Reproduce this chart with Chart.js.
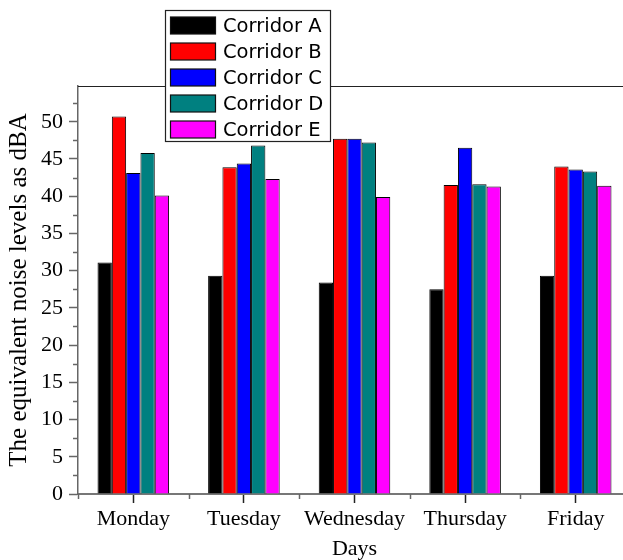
<!DOCTYPE html>
<html>
<head>
<meta charset="utf-8">
<script src="https://cdn.jsdelivr.net/npm/chart.js@4/dist/chart.umd.min.js"></script>
<style>
  html, body { margin: 0; padding: 0; background: #fff; overflow: hidden; }
  #wrap { position: relative; width: 631px; height: 560px; }
</style>
</head>
<body>
<div id="wrap"><canvas id="c"></canvas></div>
<script>
// Weekdays on the x axis
const days = ['Monday', 'Tuesday', 'Wednesday', 'Thursday', 'Friday'];

// Equivalent noise level (dBA) per corridor, Monday to Friday
const corridorA = [31.1, 29.3, 28.4, 27.5, 29.3];
const corridorB = [50.7, 43.9, 47.7, 41.5, 44.0];
const corridorC = [43.1, 44.4, 47.7, 46.5, 43.6];
const corridorD = [45.8, 46.8, 47.2, 41.6, 43.3];
const corridorE = [40.1, 42.3, 39.9, 41.3, 41.4];

const seriesNames = ['Corridor A', 'Corridor B', 'Corridor C', 'Corridor D', 'Corridor E'];
const seriesColors = ['#000000', '#ff0000', '#0000ff', '#008080', '#ff00ff'];

// Labelled y ticks and the minor ticks between them
const yTicks = [0, 5, 10, 15, 20, 25, 30, 35, 40, 45, 50];
const yMinorTicks = [2.5, 7.5, 12.5, 17.5, 22.5, 27.5, 32.5, 37.5, 42.5, 47.5, 52.5];
const yMax = 54.8;

const serif = '"Liberation Serif", "Times New Roman", serif';
const sans = '"DejaVu Sans", sans-serif';
const axisGray = '#666666';

// Minor ticks, the top frame line and the boxed legend inside the plot
const decorations = {
  id: 'decorations',
  afterDraw(chart) {
    const ctx = chart.ctx;
    const area = chart.chartArea;
    const x = chart.scales.x;
    const y = chart.scales.y;
    ctx.save();

    // top frame
    ctx.strokeStyle = '#222222';
    ctx.lineWidth = 1.2;
    ctx.beginPath();
    ctx.moveTo(area.left, area.top + 0.5);
    ctx.lineTo(area.right + 5, area.top + 0.5);
    ctx.stroke();

    // y minor ticks
    ctx.strokeStyle = axisGray;
    ctx.lineWidth = 1.5;
    yMinorTicks.forEach(v => {
      const py = Math.round(y.getPixelForValue(v)) + 0.5;
      ctx.beginPath();
      ctx.moveTo(area.left - 5, py);
      ctx.lineTo(area.left, py);
      ctx.stroke();
    });

    // x ticks on category boundaries
    for (let i = 0; i <= days.length; i++) {
      const px = Math.round(x.getPixelForValue(i - 0.5)) + 0.5;
      ctx.beginPath();
      ctx.moveTo(px, area.bottom);
      ctx.lineTo(px, area.bottom + 5);
      ctx.stroke();
    }

    // legend box
    const box = { x: 165.5, y: 10.5, w: 165, h: 131 };
    ctx.fillStyle = '#ffffff';
    ctx.fillRect(box.x, box.y, box.w, box.h);
    ctx.strokeStyle = '#222222';
    ctx.lineWidth = 1.2;
    ctx.strokeRect(box.x, box.y, box.w, box.h);

    ctx.font = '19.5px ' + sans;
    ctx.textBaseline = 'middle';
    ctx.textAlign = 'left';
    chart.data.datasets.forEach((ds, i) => {
      const cy = 25.5 + i * 26;
      ctx.fillStyle = ds.backgroundColor;
      ctx.fillRect(170.5, cy - 8.5, 45, 17);
      ctx.strokeStyle = '#111111';
      ctx.lineWidth = 1.2;
      ctx.strokeRect(170.5, cy - 8.5, 45, 17);
      ctx.fillStyle = '#000000';
      ctx.fillText(ds.label, 223, cy + 1);
    });

    ctx.restore();
  }
};

const values = [corridorA, corridorB, corridorC, corridorD, corridorE];

new Chart(document.getElementById('c'), {
  type: 'bar',
  data: {
    labels: days,
    datasets: values.map((vals, i) => ({
      label: seriesNames[i],
      data: vals,
      backgroundColor: seriesColors[i],
      borderColor: '#000000',
      borderWidth: 1,
      categoryPercentage: 0.647,
      barPercentage: 1.0
    }))
  },
  options: {
    responsive: true,
    maintainAspectRatio: false,
    animation: false,
    devicePixelRatio: 1,
    layout: { padding: { top: 86, left: 0, right: 0, bottom: 0 } },
    plugins: {
      legend: { display: false },
      tooltip: { enabled: false }
    },
    scales: {
      x: {
        type: 'category',
        offset: true,
        afterFit(scale) { scale.height = 66; },
        grid: {
          offset: false,
          drawOnChartArea: false,
          drawTicks: true,
          tickLength: 9,
          tickColor: '#222222',
          tickWidth: 1.5
        },
        border: { display: true, color: '#777777', width: 2 },
        ticks: {
          padding: 3,
          color: '#000000',
          maxRotation: 0,
          font: { family: serif, size: 22 }
        },
        title: {
          display: true,
          text: 'Days',
          color: '#000000',
          padding: 0,
          font: { family: serif, size: 22, lineHeight: 1 }
        }
      },
      y: {
        min: 0,
        max: yMax,
        afterFit(scale) { scale.width = 78; },
        afterBuildTicks(scale) { scale.ticks = yTicks.map(v => ({ value: v })); },
        grid: {
          drawOnChartArea: false,
          drawTicks: true,
          tickLength: 9,
          tickColor: axisGray,
          tickWidth: 1.5
        },
        border: { display: true, color: axisGray, width: 1.5 },
        ticks: {
          padding: 6,
          color: '#000000',
          font: { family: serif, size: 22 }
        },
        title: {
          display: true,
          text: 'The equivalent noise levels as dBA',
          color: '#000000',
          padding: { top: 7, bottom: 0 },
          font: { family: serif, size: 25, lineHeight: 1 }
        }
      }
    }
  },
  plugins: [decorations]
});
</script>
</body>
</html>
